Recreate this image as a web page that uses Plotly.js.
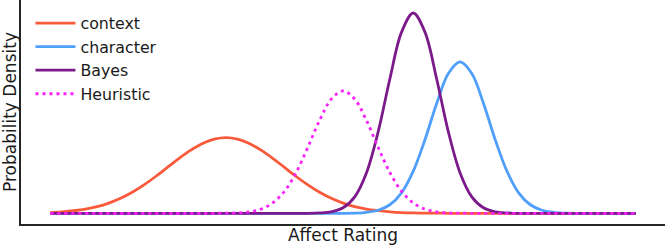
<!DOCTYPE html>
<html>
<head>
<meta charset="utf-8">
<script src="https://cdn.plot.ly/plotly-3.0.1.min.js"></script>
<style>
  html, body { margin: 0; padding: 0; background: #ffffff; }
  #chart { width: 666px; height: 246px; }
</style>
</head>
<body>
<div id="chart"></div>
<script>
// Affect rating grid (arbitrary units, step 0.2)
const rating = [0, 0.2, 0.4, 0.6, 0.8, 1.0, 1.2, 1.4, 1.6, 1.8,
                2.0, 2.2, 2.4, 2.6, 2.8, 3.0, 3.2, 3.4, 3.6, 3.8,
                4.0, 4.2, 4.4, 4.6, 4.8, 5.0, 5.2, 5.4, 5.6, 5.8,
                6.0, 6.2, 6.4, 6.6, 6.8, 7.0, 7.2, 7.4, 7.6, 7.8,
                8.0, 8.2, 8.4, 8.6, 8.8, 9.0, 9.2, 9.4, 9.6, 9.8, 10.0];

// Probability density of each distribution on the grid above
const context = [0.004, 0.008, 0.014, 0.022, 0.035, 0.054, 0.079, 0.111, 0.150, 0.194,
                 0.242, 0.290, 0.333, 0.368, 0.391, 0.399, 0.391, 0.368, 0.333, 0.290,
                 0.242, 0.194, 0.150, 0.111, 0.079, 0.054, 0.035, 0.022, 0.014, 0.008,
                 0.004, 0.002, 0.001, 0.001, 0, 0, 0, 0, 0, 0,
                 0, 0, 0, 0, 0, 0, 0, 0, 0, 0, 0];

const character = [0, 0, 0, 0, 0, 0, 0, 0, 0, 0,
                   0, 0, 0, 0, 0, 0, 0, 0, 0, 0,
                   0, 0, 0, 0, 0, 0, 0.001, 0.005, 0.016, 0.045,
                   0.108, 0.222, 0.388, 0.579, 0.737, 0.798, 0.737, 0.579, 0.388, 0.222,
                   0.108, 0.045, 0.016, 0.005, 0.001, 0, 0, 0, 0, 0, 0];

const bayes = [0, 0, 0, 0, 0, 0, 0, 0, 0, 0,
               0, 0, 0, 0, 0, 0, 0, 0, 0, 0,
               0, 0, 0, 0.002, 0.008, 0.029, 0.087, 0.213, 0.429, 0.708,
               0.955, 1.056, 0.955, 0.708, 0.429, 0.213, 0.087, 0.029, 0.008, 0.002,
               0, 0, 0, 0, 0, 0, 0, 0, 0, 0, 0];

const heuristic = [0, 0, 0, 0, 0, 0, 0, 0, 0, 0,
                   0, 0, 0, 0, 0, 0.001, 0.002, 0.008, 0.022, 0.055,
                   0.116, 0.215, 0.348, 0.490, 0.602, 0.645, 0.602, 0.490, 0.348, 0.215,
                   0.116, 0.055, 0.022, 0.008, 0.002, 0.001, 0, 0, 0, 0,
                   0, 0, 0, 0, 0, 0, 0, 0, 0, 0, 0];

const seriesNames = ['context', 'character', 'Bayes', 'Heuristic'];

const font = '"DejaVu Sans", "Liberation Sans", sans-serif';

function curve(name, y, color, dash) {
  return {
    type: 'scatter',
    mode: 'lines',
    name: name,
    x: rating,
    y: y,
    line: { color: color, width: 2.8, shape: 'spline', smoothing: 1, dash: dash || 'solid' },
    hoverinfo: 'skip'
  };
}

const data = [
  curve(seriesNames[0], context, '#f95a3c'),
  curve(seriesNames[1], character, '#4f9ffb'),
  curve(seriesNames[2], bayes, '#7d1a8b'),
  curve(seriesNames[3], heuristic, '#fb1ffb', '3px,4px')
];

const axisBase = {
  showline: true,
  linecolor: '#262626',
  linewidth: 1.6,
  showgrid: false,
  zeroline: false,
  showticklabels: false,
  ticks: '',
  automargin: false,
  fixedrange: true
};

const layout = {
  width: 666,
  height: 246,
  margin: { l: 21, r: 1, t: 0, b: 22, pad: 0 },
  paper_bgcolor: '#ffffff',
  plot_bgcolor: '#ffffff',
  font: { family: font, color: '#1a1a1a' },
  showlegend: true,
  legend: {
    x: 0.0147, y: 0.9716, xanchor: 'left', yanchor: 'top',
    bgcolor: 'rgba(255,255,255,0)',
    borderwidth: 0,
    font: { family: font, size: 15.8, color: '#1a1a1a' },
    itemwidth: 40
  },
  xaxis: Object.assign({}, axisBase, {
    range: [-0.5, 10.5],
    title: { text: 'Affect Rating', font: { family: font, size: 17, color: '#1a1a1a' }, standoff: 4 }
  }),
  yaxis: Object.assign({}, axisBase, {
    range: [-0.0564, 1.1244],
    title: { text: 'Probability Density', font: { family: font, size: 17, color: '#1a1a1a' }, standoff: 3 }
  })
};

Plotly.newPlot('chart', data, layout, { displayModeBar: false, staticPlot: true });
</script>
</body>
</html>
